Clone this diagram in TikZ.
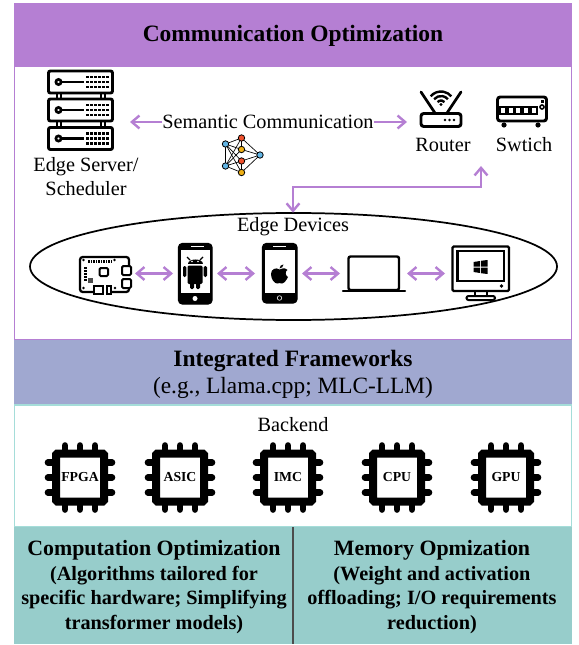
\documentclass[tikz,border=0pt]{standalone}
\usepackage{fontspec}
\usepackage{xcolor}
\setmainfont{Liberation Serif}
\usetikzlibrary{arrows.meta}
\definecolor{commPurple}{HTML}{B57FD3}
\definecolor{frameBlue}{HTML}{A0A8D0}
\definecolor{backTeal}{HTML}{97CDCB}
\definecolor{lineTeal}{HTML}{A5DDD9}
\definecolor{nnBlue}{HTML}{62B5E5}
\definecolor{nnRed}{HTML}{F0512D}
\definecolor{nnYellow}{HTML}{EFB015}
\tikzset{
  link/.style={commPurple, line width=1.8pt, {Straight Barb[length=2mm,width=3.4mm]}-{Straight Barb[length=2mm,width=3.4mm]}},
  linkone/.style={commPurple, line width=1.8pt, -{Straight Barb[length=2mm,width=3.4mm]}},
  icon/.style={inner sep=0pt, outer sep=0pt, minimum height=15pt},
  label/.style={inner sep=0pt, font=\fontsize{15.2}{18.4}\selectfont, align=center},
  labelB/.style={inner sep=0pt, font=\fontsize{17.5}{20}\selectfont, align=center},
  headA/.style={inner sep=0pt, font=\fontsize{17.6}{20}\selectfont\bfseries, align=center},
  headB/.style={inner sep=0pt, font=\fontsize{16.4}{19}\selectfont\bfseries, align=center},
  subB/.style={inner sep=0pt, font=\fontsize{15.2}{18.4}\selectfont\bfseries, align=center},
  nn/.style={draw=black, line width=0.6pt, fill=#1},
  pics/rack/.style={code={
    \draw[line width=2.2pt, rounded corners=1.5pt, fill=white] (-32,-11) rectangle (32,11);
    \draw[line width=2pt] (-22,0) circle (2.6);
    \draw[line width=2pt] (-19,0) -- (3,0);
    \foreach \col in {7,11,15,19,23,27} \foreach \row in {-5,0,5}
      \fill (\col-1.1,\row-1.1) rectangle (\col+1.1,\row+1.1);
  }},
  pics/chip/.style={code={
    \foreach \off in {-15,0,15} {
      \draw[line width=5pt, line cap=round] (\off,-32) -- (\off,32);
      \draw[line width=5pt, line cap=round] (-32,\off) -- (32,\off);
    }
    \draw[line width=6pt, rounded corners=1pt, fill=white] (-24,-24) rectangle (24,24);
  }},
}
\begin{document}
\begin{tikzpicture}[x=0.75pt, y=-0.75pt]
\useasboundingbox (0,0) rectangle (578,645);
% bands
\fill[commPurple] (14,3) rectangle (572,66);
\draw[commPurple, line width=1pt] (14.5,66) rectangle (571.5,340);
\fill[frameBlue] (14,340) rectangle (572,405);
\draw[lineTeal, line width=1pt] (14.5,405) rectangle (571.5,527);
\fill[backTeal] (14,527) rectangle (572,644);
\draw[black!70, line width=0.8pt] (293,527) -- (293,644);
\node[headA] (title) at (293,35.5) {Communication Optimization};
\node[headA] (frames) at (293,360.5) {Integrated Frameworks};
\node[labelB] (framesub) at (293,387.5) {(e.g., Llama.cpp; MLC-LLM)};
\node[label] (backend) at (293,425) {Backend};
\node[headB] (compute) at (154,550.5) {Computation Optimization};
\node[subB] (computesub) at (154,600) {(Algorithms tailored for\\specific hardware; Simplifying\\transformer models)};
\node[headB] (memory) at (432,550.5) {Memory Opmization};
\node[subB] (memorysub) at (432,600) {(Weight and activation\\offloading; I/O requirements\\reduction)};
% server
\foreach \y in {96,124} {
  \draw[line width=1.6pt] (57,\y-6) -- (57,\y+6);
  \draw[line width=1.6pt] (61,\y-6) -- (61,\y+6);
  \draw[line width=1.6pt] (101,\y-6) -- (101,\y+6);
  \draw[line width=1.6pt] (105,\y-6) -- (105,\y+6);
}
\pic at (80.5,82) {rack};
\pic at (80.5,110) {rack};
\pic at (80.5,138.5) {rack};
\node[icon, minimum width=75pt] (server) at (80,122) {};
\node[label] (serverlabel) at (86,176.5) {Edge Server/\\Scheduler};
\node[label, minimum width=157.5pt] (semantic) at (268,122) {Semantic Communication};
% small neural net
\coordinate (n1) at (225.5,144);
\coordinate (n2) at (225.5,166);
\coordinate (n3) at (241.5,138);
\coordinate (n4) at (241.5,149.5);
\coordinate (n5) at (241.5,161);
\coordinate (n6) at (241.5,172.5);
\coordinate (n7) at (260,155);
\foreach \a/\b in {n1/n2,n1/n3,n1/n4,n1/n5,n1/n6,n2/n3,n2/n4,n2/n5,n2/n6,n3/n4,n5/n6,n3/n7,n4/n7,n5/n7,n6/n7}
  \draw[line width=0.5pt] (\a) -- (\b);
\foreach \a/\c in {n1/nnBlue,n2/nnBlue,n7/nnBlue,n3/nnRed,n5/nnRed,n4/nnYellow,n6/nnYellow}
  \draw[nn=\c] (\a) circle (3.2);
% router
\draw[line width=2pt, line cap=round] (421,92) -- (435,113);
\draw[line width=2pt, line cap=round] (461,92) -- (447,113);
\draw[line width=2.2pt, rounded corners=2pt, fill=white] (421,113.5) rectangle (461,126.5);
\foreach \x in {445,449.5,454} \fill (\x,120) circle (1.3);
\foreach \r in {4.5,9,13.5}
  \draw[line width=1.8pt] (441,105) ++(220:\r) arc (220:320:\r);
\fill (441,104.5) circle (1.6);
\node[icon, minimum width=51pt] (router) at (441,122) {};
\node[label] (routerlabel) at (443,145) {Router};
% switch
\draw[line width=2.2pt, rounded corners=2pt] (497.5,97) rectangle (546.5,121);
\foreach \x in {500,507.7,515.4,523.1,530.8}
  \draw[line width=1.5pt] (\x,107.5) rectangle (\x+6,114.5);
\fill (540.5,100.5) rectangle (543.5,103.5);
\draw[line width=1.2pt] (542,107) circle (2);
\fill (504,125) circle (2.6);
\fill (538,125) circle (2.6);
\node[icon] (switch) at (522,109) {};
\node[label] (switchlabel) at (524,145) {Swtich};
% edge devices
\draw[line width=1.3pt] (293.5,266.5) ellipse [x radius=263.5, y radius=53.5];
\node[label, minimum height=21pt] (edge) at (293,227) {Edge Devices};
\coordinate (netTop) at (481,166);
% raspberry board
\draw[line width=1.7pt, rounded corners=2pt] (80,257) rectangle (129,292);
\fill[white] (122,265) rectangle (134,289);
\draw[line width=1.5pt, rounded corners=1pt] (122,266) rectangle (131,275);
\draw[line width=1.5pt, rounded corners=1pt] (122,279) rectangle (131,288);
\draw[line width=1.5pt, rounded corners=1pt] (99.5,268) rectangle (108,276);
\fill[white] (94,285) rectangle (111,294);
\draw[line width=1.5pt] (94,286) rectangle (103,293.5);
\draw[line width=1.5pt] (107,286) rectangle (111,293.5);
\fill[black!70] (88,278) rectangle (93,283);
\foreach \x in {88,90.5,...,111} \fill (\x,259.5) rectangle (\x+1.5,262.5);
\foreach \y in {267,270,273,276,279} \fill (84,\y) rectangle (87,\y+1.6);
\foreach \x/\y in {83.5/260,114.5/260,83.5/288,115/288} \fill (\x,\y) circle (1.3);
\node[icon, minimum width=44.25pt] (pi) at (105.5,273.5) {};
% android phone
\draw[line width=1pt, fill=black, rounded corners=3pt] (178.5,243.5) rectangle (212,304);
\fill[white] (181,249.5) rectangle (209.5,293);
\fill[white] (195,298.5) circle (2.5);
\fill[white] (191,246) rectangle (204,247);
\fill (187.5,264) .. controls (187.5,257.5) and (202.5,257.5) .. (202.5,264) -- cycle;
\fill[rounded corners=1pt] (187.5,265.5) rectangle (202.5,284);
\fill[rounded corners=1pt] (183,266) rectangle (186.3,277);
\fill[rounded corners=1pt] (203.7,266) rectangle (207,277);
\fill[rounded corners=1pt] (190,283) rectangle (194,289);
\fill[rounded corners=1pt] (196,283) rectangle (200,289);
\draw[line width=1pt] (190,260) -- (187,257) (200,260) -- (203,257);
\fill[white] (192,261.5) circle (0.9) (198,261.5) circle (0.9);
\node[icon, minimum width=33pt] (android) at (195,273.5) {};
% apple phone
\draw[line width=1pt, fill=black, rounded corners=3pt] (262.5,243.5) rectangle (297,303);
\fill[white] (264.5,250) rectangle (295,293);
\fill[white] (273,246) rectangle (286,247);
\draw[white, line width=0.4pt] (279.5,298) circle (2.3);
\fill (279.5,269.5) .. controls (276,267) and (271,269) .. (271,274)
  .. controls (271,280) and (275,283.5) .. (277,283.5)
  .. controls (278.5,283.5) and (280.5,282.5) .. (282,283.5)
  .. controls (284,283.5) and (287,279.5) .. (288,277)
  .. controls (285,275.5) and (285,271) .. (287.5,270)
  .. controls (285,267.5) and (282,268) .. (279.5,269.5) -- cycle;
\fill (279.5,268.5) .. controls (279.5,266) and (281.5,264.5) .. (283.5,264.5)
  .. controls (283.5,266.5) and (281.5,268.5) .. (279.5,268.5) -- cycle;
\node[icon, minimum width=35.25pt] (apple) at (278.5,273.5) {};
% laptop
\draw[line width=1.8pt, rounded corners=1.5pt] (348.5,256.5) rectangle (399,290);
\draw[line width=1.8pt, line cap=round] (343,291) -- (405,291);
\node[icon, minimum width=50.25pt] (laptop) at (373.5,273.5) {};
% monitor
\draw[line width=1.7pt, rounded corners=1pt] (452.5,246.5) rectangle (509,291);
\draw[line width=1.9pt] (457.5,251) rectangle (504,281);
\fill (501.5,286) circle (1.9);
\fill (473.5,262) -- (480,261) -- (480,266.5) -- (473.5,266.5) -- cycle;
\fill (481,260.8) -- (487.5,260) -- (487.5,266.5) -- (481,266.5) -- cycle;
\fill (473.5,267.5) -- (480,267.5) -- (480,273) -- (473.5,272) -- cycle;
\fill (481,267.5) -- (487.5,267.5) -- (487.5,274) -- (481,273.2) -- cycle;
\draw[line width=1.5pt] (475,291) -- (475,296) (487,291) -- (487,296);
\draw[line width=1.5pt, rounded corners=1.5pt] (466.5,296) rectangle (495,300);
\node[icon, minimum width=54pt] (monitor) at (481,273.5) {};
% chips
\foreach \name/\x/\txt in {fpga/80/FPGA,asic/180/ASIC,imc/288/IMC,cpu/397/CPU,gpu/506/GPU} {
  \pic at (\x,477.5) {chip};
  \node[inner sep=0pt, font=\fontsize{10.3}{11}\selectfont\bfseries] (\name) at (\x,477.5) {\txt};
}
% connectors
\draw[linkone] (semantic) -- (server);
\draw[linkone] (semantic) -- (router);
\draw[link] (edge.north) |- (netTop |- 0,187) -- (netTop);
\draw[link] (pi) -- (android);
\draw[link] (android) -- (apple);
\draw[link] (apple) -- (laptop);
\draw[link] (laptop) -- (monitor);
\end{tikzpicture}
\end{document}
